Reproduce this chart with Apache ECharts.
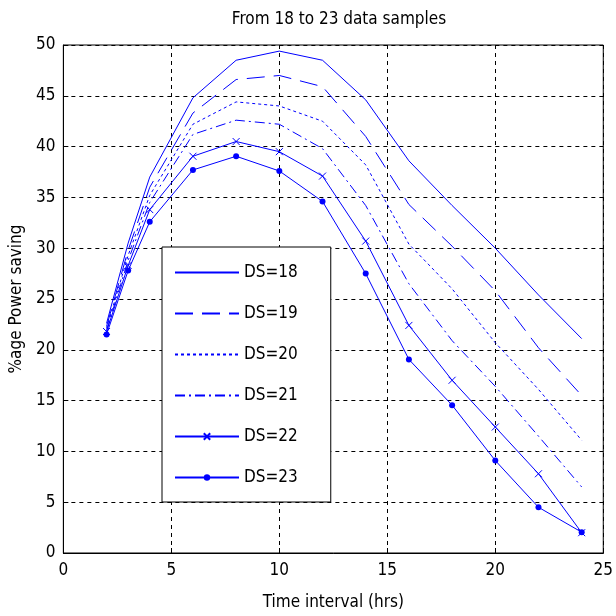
<!DOCTYPE html>
<html>
<head>
<meta charset="utf-8">
<script src="https://cdn.jsdelivr.net/npm/echarts@6/dist/echarts.min.js"></script>
<style>html,body{margin:0;padding:0;background:#fff;}#c{width:616px;height:616px;}</style>
</head>
<body>
<div id="c"></div>
<script>
const hours = [2, 3, 4, 6, 8, 10, 12, 14, 16, 18, 20, 22, 24];
const ds18 = [22.6, 30.5, 37.0, 44.8, 48.5, 49.4, 48.5, 44.6, 38.6, 34.2, 30.0, 25.4, 21.1];
const ds19 = [22.3, 29.8, 36.0, 43.3, 46.6, 47.0, 45.9, 41.0, 34.3, 30.2, 25.8, 20.2, 15.5];
const ds20 = [22.1, 29.3, 35.2, 42.2, 44.4, 44.0, 42.5, 38.2, 30.4, 26.0, 20.7, 16.1, 11.1];
const ds21 = [21.9, 28.8, 34.5, 41.2, 42.6, 42.2, 39.8, 34.2, 26.5, 20.9, 16.4, 11.5, 6.5];
const ds22 = [21.8, 28.3, 33.8, 39.05, 40.5, 39.5, 37.1, 30.7, 22.4, 17.0, 12.4, 7.8, 2.0];
const ds23 = [21.5, 27.8, 32.6, 37.7, 39.05, 37.6, 34.6, 27.5, 19.05, 14.55, 9.1, 4.5, 2.05];
const seriesNames = ['DS=18', 'DS=19', 'DS=20', 'DS=21', 'DS=22', 'DS=23'];
const xTicks = [0, 5, 10, 15, 20, 25];
const yTicks = [0, 5, 10, 15, 20, 25, 30, 35, 40, 45, 50];

const FONT = '"Liberation Sans Narrow", "DejaVu Sans Condensed", "Liberation Sans", Arial, sans-serif';
const BLUE = '#0000ff';
const allData = [ds18, ds19, ds20, ds21, ds22, ds23];
const dashTypes = ['solid', [18, 9], [3, 3], [10, 4, 2, 4], 'solid', 'solid'];
const CROSS = 'path://M0,0L10,10M10,0L0,10';
const symbols = ['none', 'none', 'none', 'none', CROSS, 'circle'];
const symbolSizes = [0, 0, 0, 0, 7, 6];

const series = allData.map((vals, i) => ({
  name: seriesNames[i],
  type: 'line',
  data: hours.map((h, j) => [h, vals[j]]),
  symbol: symbols[i],
  symbolSize: symbolSizes[i],
  showSymbol: symbols[i] !== 'none',
  lineStyle: { color: BLUE, width: 1, type: dashTypes[i] },
  itemStyle: { color: BLUE, borderColor: BLUE, borderWidth: i === 4 ? 1 : 0 },
  emphasis: { disabled: true },
  animation: false,
  z: 3
}));

const legendData = seriesNames.map((n, i) => (
  symbols[i] === 'none' ? { name: n, itemStyle: { opacity: 0, borderWidth: 0 } } : { name: n }
));

const chart = echarts.init(document.getElementById('c'), null, { renderer: 'canvas' });
chart.setOption({
  backgroundColor: '#ffffff',
  animation: false,
  title: {
    text: 'From 18 to 23 data samples',
    left: 334,
    textAlign: 'center',
    top: 6,
    textStyle: { fontFamily: FONT, fontSize: 17, fontWeight: 'normal', color: '#000' }
  },
  grid: {
    left: 62, right: 10, top: 45, bottom: 61,
    show: true, borderColor: '#000', borderWidth: 1, backgroundColor: '#fff'
  },
  legend: {
    orient: 'vertical',
    left: 162,
    top: 247,
    padding: [17, 33, 16, 12],
    itemWidth: 64,
    itemHeight: 8,
    itemGap: 24,
    backgroundColor: '#fff',
    borderColor: '#000',
    borderWidth: 1,
    borderRadius: 0,
    textStyle: { fontFamily: FONT, fontSize: 17, color: '#000' },
    data: legendData
  },
  xAxis: {
    type: 'value',
    min: xTicks[0], max: xTicks[xTicks.length - 1], interval: 5,
    name: 'Time interval (hrs)',
    nameLocation: 'middle',
    nameGap: 41,
    nameTextStyle: { fontFamily: FONT, fontSize: 17, color: '#000' },
    axisLine: { show: true, lineStyle: { color: '#000', width: 1 } },
    axisTick: { show: true, inside: true, length: 5, lineStyle: { color: '#000' } },
    axisLabel: { fontFamily: FONT, fontSize: 17, color: '#000', margin: 9 },
    splitLine: { show: true, lineStyle: { color: '#000', type: [4, 4], width: 1 } }
  },
  yAxis: {
    type: 'value',
    min: yTicks[0], max: yTicks[yTicks.length - 1], interval: 5,
    name: '%age Power saving',
    nameLocation: 'middle',
    nameGap: 35,
    nameTextStyle: { fontFamily: FONT, fontSize: 17, color: '#000' },
    axisLine: { show: true, lineStyle: { color: '#000', width: 1 } },
    axisTick: { show: true, inside: true, length: 5, lineStyle: { color: '#000' } },
    axisLabel: { fontFamily: FONT, fontSize: 17, color: '#000', margin: 8 },
    splitLine: { show: true, lineStyle: { color: '#000', type: [4, 4], width: 1 } }
  },
  series: series
});
</script>
</body>
</html>
